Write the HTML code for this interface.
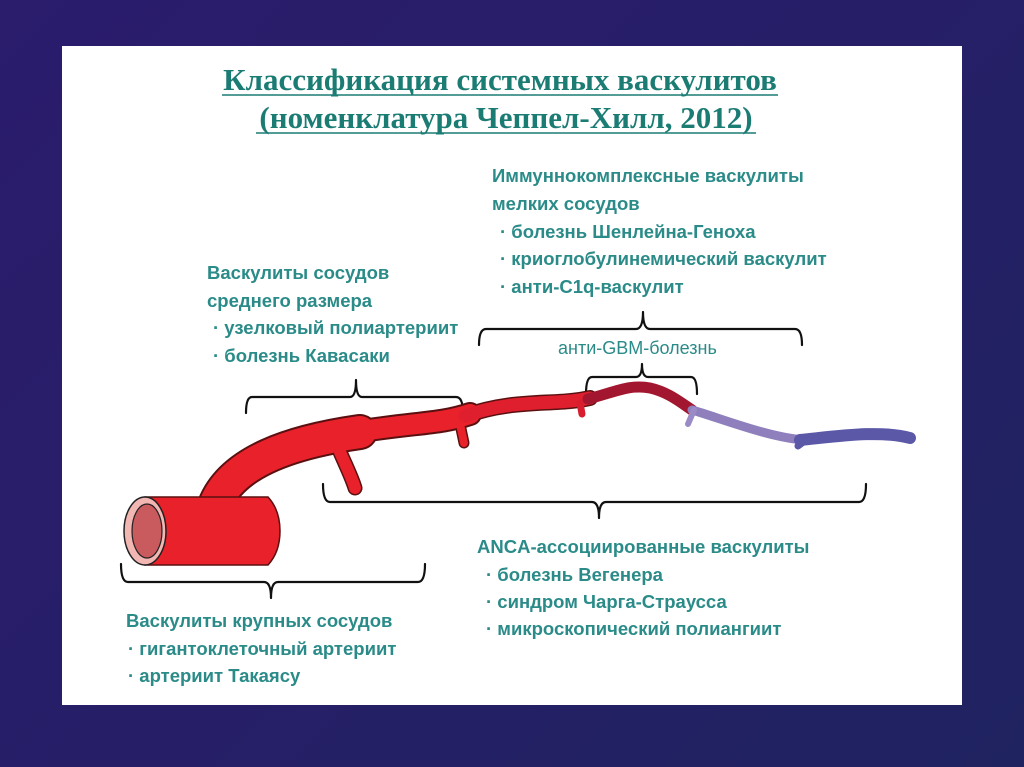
<!DOCTYPE html>
<html><head><meta charset="utf-8"><style>
html,body{margin:0;padding:0;width:1024px;height:767px;overflow:hidden;background:linear-gradient(135deg,#2b1c6c 0%,#261f68 50%,#1f2360 100%);}
svg{position:absolute;left:0;top:0}
.t{font-family:"Liberation Sans",sans-serif;font-weight:bold;font-size:18.5px;fill:#2a8b88}
.h{font-family:"Liberation Serif",serif;font-weight:bold;font-size:31px;fill:#1b7c74}
.br{fill:none;stroke:#111;stroke-width:2.2;stroke-linejoin:round;stroke-linecap:round}
</style></head><body>
<svg width="1024" height="767" viewBox="0 0 1024 767">
<rect x="62" y="46" width="900" height="659" fill="#fff"/>
<text class="h" x="500" y="90" text-anchor="middle">Классификация системных васкулитов</text>
<line x1="222" y1="95" x2="778" y2="95" stroke="#1b7c74" stroke-width="1.6"/>
<text class="h" x="506" y="128" text-anchor="middle">(номенклатура Чеппел-Хилл, 2012)</text>
<line x1="256" y1="133" x2="756" y2="133" stroke="#1b7c74" stroke-width="1.6"/>

<text class="t" x="492" y="182">Иммуннокомплексные васкулиты</text>
<text class="t" x="492" y="210">мелких сосудов</text>
<text class="t" x="500" y="238">· болезнь Шенлейна-Геноха</text>
<text class="t" x="500" y="265">· криоглобулинемический васкулит</text>
<text class="t" x="500" y="293">· анти-C1q-васкулит</text>

<text class="t" x="207" y="279">Васкулиты сосудов</text>
<text class="t" x="207" y="307">среднего размера</text>
<text class="t" x="213" y="334">· узелковый полиартериит</text>
<text class="t" x="213" y="362">· болезнь Кавасаки</text>

<text x="558" y="354" font-family="Liberation Sans,sans-serif" font-size="18" fill="#2a8b88">анти-GBM-болезнь</text>

<text class="t" x="477" y="553">ANCA-ассоциированные васкулиты</text>
<text class="t" x="486" y="581">· болезнь Вегенера</text>
<text class="t" x="486" y="608">· синдром Чарга-Страусса</text>
<text class="t" x="486" y="635">· микроскопический полиангиит</text>

<text class="t" x="126" y="627">Васкулиты крупных сосудов</text>
<text class="t" x="128" y="655">· гигантоклеточный артериит</text>
<text class="t" x="128" y="682">· артериит Такаясу</text>

<!-- brackets -->
<path class="br" d="M246 413 Q246 397 252 397 L350 397 Q356 397 356 380 Q356 397 362 397 L456 397 Q463 397 463 413"/>
<path class="br" d="M479 345 Q479 329 486 329 L636 329 Q643 329 643 312 Q643 329 650 329 L795 329 Q802 329 802 345"/>
<path class="br" d="M586 394 Q586 377 592 377 L636 377 Q642 377 642 364 Q642 377 648 377 L691 377 Q697 377 697 394"/>
<path class="br" d="M323 484 Q323 502 330 502 L592 502 Q599 502 599 518 Q599 502 606 502 L859 502 Q866 502 866 484"/>
<path class="br" d="M121 564 Q121 582 128 582 L264 582 Q271 582 271 598 Q271 582 278 582 L418 582 Q425 582 425 564"/>

<!-- vessel -->
<g fill="none" stroke-linecap="round">
<g stroke="#5a1010">
<path d="M215 505 C232 462 290 442 360 432" stroke-width="36"/>
<path d="M355 432 C420 422 440 424 470 414" stroke-width="24"/>
<path d="M465 416 C515 398 555 406 590 398" stroke-width="16"/>
<path d="M340 452 C347 468 352 478 355 488" stroke-width="15"/>
<path d="M460 424 L464 443" stroke-width="11"/>
</g>
<path d="M215 505 C232 462 290 442 360 432" stroke="#e8212b" stroke-width="32"/>
<path d="M355 432 C420 422 440 424 470 414" stroke="#e8212b" stroke-width="20"/>
<path d="M465 416 C515 398 555 406 590 398" stroke="#e01f2e" stroke-width="13"/>
<path d="M340 452 C347 468 352 478 355 488" stroke="#e8212b" stroke-width="12"/>
<path d="M460 424 L464 443" stroke="#e8212b" stroke-width="8"/>
<path d="M580 403 L582 414" stroke="#d81e2e" stroke-width="7"/>
<path d="M588 399 C615 392 630 384 650 388 C668 392 680 402 692 410" stroke="#a3162f" stroke-width="11"/>
<path d="M692 410 C720 418 770 438 805 440" stroke="#8f7fbd" stroke-width="9"/>
<path d="M800 440 C840 436 880 430 910 438" stroke="#5b58a8" stroke-width="12"/>
<path d="M694 410 L688 424" stroke="#9a8bc6" stroke-width="6"/>
<path d="M806 440 L798 446" stroke="#5b58a8" stroke-width="7"/>
</g>
<!-- cylinder -->
<path d="M145 497 L268 497 Q280 510 280 531 Q280 552 268 565 L145 565 Z" fill="#e8212b" stroke="#5a1010" stroke-width="1.5"/>
<ellipse cx="145" cy="531" rx="21" ry="34" fill="#f2b6b3" stroke="#222" stroke-width="1.5"/>
<ellipse cx="147" cy="531" rx="15" ry="27" fill="#c95a5e" stroke="#222" stroke-width="1.2"/>
</svg>
</body></html>
